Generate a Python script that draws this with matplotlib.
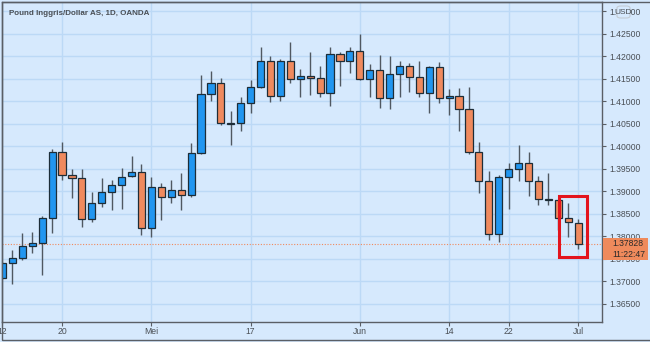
import matplotlib
matplotlib.use("Agg")
import matplotlib.pyplot as plt
from matplotlib.patches import Rectangle, FancyBboxPatch
import numpy as np
import pandas as pd

plt.rcParams["font.family"] = ["Liberation Sans", "DejaVu Sans"]

# GBP/USD daily candles, 12 Apr - 1 Jul 2021
dates = pd.bdate_range("2021-04-12", "2021-07-01")
opens = [1.3706, 1.3740, 1.3751, 1.3779, 1.3784, 1.3840, 1.3986, 1.3936, 1.3929, 1.3838,
         1.3874, 1.3897, 1.3914, 1.3934, 1.3943, 1.3817, 1.3910, 1.3888, 1.3903, 1.3891,
         1.3984, 1.4115, 1.4141, 1.4051, 1.4051, 1.4095, 1.4131, 1.4188, 1.4112, 1.4189,
         1.4149, 1.4156, 1.4152, 1.4119, 1.4205, 1.4189, 1.4212, 1.4149, 1.4169, 1.4106,
         1.4159, 1.4178, 1.4153, 1.4118, 1.4175, 1.4106, 1.4111, 1.4083, 1.3986, 1.3923,
         1.3804, 1.3932, 1.3949, 1.3962, 1.3922, 1.3883, 1.3880, 1.3840, 1.3829]
highs = [1.3742, 1.3769, 1.3808, 1.3810, 1.3845, 1.3993, 1.4010, 1.3949, 1.3949, 1.3897,
         1.3929, 1.3925, 1.3951, 1.3977, 1.3960, 1.3932, 1.3919, 1.3925, 1.3941, 1.4006,
         1.4158, 1.4166, 1.4151, 1.4078, 1.4110, 1.4147, 1.4219, 1.4199, 1.4193, 1.4232,
         1.4172, 1.4210, 1.4177, 1.4220, 1.4210, 1.4219, 1.4249, 1.4183, 1.4203, 1.4199,
         1.4189, 1.4184, 1.4188, 1.4178, 1.4186, 1.4127, 1.4129, 1.4131, 1.4009, 1.3945,
         1.3936, 1.3963, 1.4002, 1.3986, 1.3934, 1.3940, 1.3881, 1.3873, 1.3838]
lows = [1.3704, 1.3694, 1.3747, 1.3762, 1.3714, 1.3808, 1.3925, 1.3884, 1.3821, 1.3832,
        1.3864, 1.3857, 1.3860, 1.3931, 1.3803, 1.3799, 1.3836, 1.3874, 1.3857, 1.3888,
        1.3982, 1.4101, 1.4047, 1.4003, 1.4034, 1.4074, 1.4129, 1.4098, 1.4101, 1.4140,
        1.4110, 1.4114, 1.4110, 1.4090, 1.4134, 1.4162, 1.4146, 1.4110, 1.4084, 1.4082,
        1.4110, 1.4120, 1.4108, 1.4073, 1.4095, 1.4069, 1.4034, 1.3982, 1.3895, 1.3792,
        1.3786, 1.3860, 1.3923, 1.3889, 1.3870, 1.3869, 1.3814, 1.3798, 1.3772]
closes = [1.3740, 1.3751, 1.3779, 1.3784, 1.3840, 1.3986, 1.3936, 1.3930, 1.3838, 1.3874,
          1.3897, 1.3914, 1.3932, 1.3943, 1.3817, 1.3910, 1.3888, 1.3903, 1.3891, 1.3984,
          1.4115, 1.4141, 1.4051, 1.4050, 1.4095, 1.4131, 1.4188, 1.4112, 1.4189, 1.4149,
          1.4156, 1.4152, 1.4119, 1.4205, 1.4189, 1.4212, 1.4149, 1.4169, 1.4106, 1.4159,
          1.4178, 1.4153, 1.4118, 1.4175, 1.4106, 1.4111, 1.4083, 1.3986, 1.3923, 1.3804,
          1.3932, 1.3949, 1.3962, 1.3922, 1.3883, 1.3880, 1.3840, 1.3831, 1.37828]

tick_dates = ["2021-04-12", "2021-04-20", "2021-05-03", "2021-05-17",
              "2021-06-01", "2021-06-14", "2021-06-22", "2021-07-01"]
tick_labels = ["12", "20", "Mei", "17", "Jun", "14", "22", "Jul"]
price_ticks = np.arange(1.365, 1.4301, 0.005)
title = "Pound Inggris/Dollar AS, 1D, OANDA"
last_time = "11:22:47"

bg = "#d6e9fd"
grid_c = "#bcd9f6"
up_c = "#2196f0"
down_c = "#f08a5e"
text_c = "#4a4f55"
frame_c = "#5a5f66"

o = np.array(opens)
h = np.array(highs)
l = np.array(lows)
c = np.array(closes)
x = np.arange(len(dates))
up = c >= o

fig = plt.figure(figsize=(6.5, 3.42), dpi=100, facecolor=bg)
ax = fig.add_axes([2 / 650, (342 - 321.7) / 342, 600 / 650, 319.7 / 342])
ax.set_facecolor(bg)

# grid
tick_pos = [dates.get_loc(pd.Timestamp(d)) for d in tick_dates]
for tp in tick_pos[1:]:
    ax.axvline(tp, color=grid_c, lw=1, zorder=0)
for pt in price_ticks:
    ax.axhline(pt, color=grid_c, lw=1, zorder=0)

# candles
ax.vlines(x, l, h, color="#505861", lw=1, zorder=2)
colors = np.where(up, up_c, down_c)
ax.bar(x, np.abs(c - o), bottom=np.minimum(o, c), width=0.72, color=colors,
       edgecolor="#1d2d38", linewidth=0.9, zorder=3)

# last price line
ax.axhline(c[-1], color=down_c, lw=0.8, ls=(0, (1, 1.5)), zorder=1)

# highlight last two candles
n = len(x)
ax.add_patch(Rectangle((n - 2.95, l[-1] - 0.0018), 2.85, max(h[-2:]) - l[-1] + 0.0034,
                       fill=False, edgecolor="#e3141e", lw=2.2, zorder=5))

ax.set_xlim(-0.05, 60.4)
ax.set_ylim(1.3610, 1.4320)

ax.set_xticks(tick_pos)
ax.set_xticklabels(tick_labels)
ax.yaxis.tick_right()
ax.set_yticks(price_ticks)
ax.set_yticklabels([f"{v:.5f}" for v in price_ticks])
ax.tick_params(axis="both", colors=frame_c, labelcolor=text_c, labelsize=6.2,
               length=3, width=0.8, pad=2)
ax.tick_params(axis="x", pad=1)
for s in ax.spines.values():
    s.set_color(frame_c)
    s.set_linewidth(1)

ax.text(0.011, 0.963, title, transform=ax.transAxes, fontsize=5.8, fontweight="bold",
        color=text_c, va="center", ha="left")

# price label on axis
yfig = ax.transData.transform((0, c[-1]))[1] / fig.dpi / 3.42
fig.patches.append(Rectangle((603 / 650, yfig - 16 / 342), 45 / 650, 22 / 342,
                             transform=fig.transFigure, facecolor="#ef8a5c",
                             edgecolor="none", zorder=10))
fig.text(612 / 650, yfig, f"{c[-1]:.5f}", fontsize=6.2, color="#2a2a2a",
         va="center", ha="left", zorder=11)
fig.text(612 / 650, yfig - 10.5 / 342, last_time, fontsize=6.2, color="#2a2a2a",
         va="center", ha="left", zorder=11)

# currency badge
fig.patches.append(FancyBboxPatch((617 / 650, 324 / 342), 13 / 650, 12 / 342,
                                  boxstyle="round,pad=0,rounding_size=0.006",
                                  transform=fig.transFigure, facecolor=bg,
                                  edgecolor="#c4ccd4", lw=0.8, zorder=10))
fig.text(623.5 / 650, 330 / 342, "USD", fontsize=6.0, color=text_c,
         va="center", ha="center", zorder=11)

# outer frame
fig.patches.append(Rectangle((1.5 / 650, 2.5 / 342), 660 / 650, 338 / 342,
                             transform=fig.transFigure, fill=False,
                             edgecolor=frame_c, lw=1, zorder=12))

fig.savefig("out.png", dpi=100, facecolor=bg)
